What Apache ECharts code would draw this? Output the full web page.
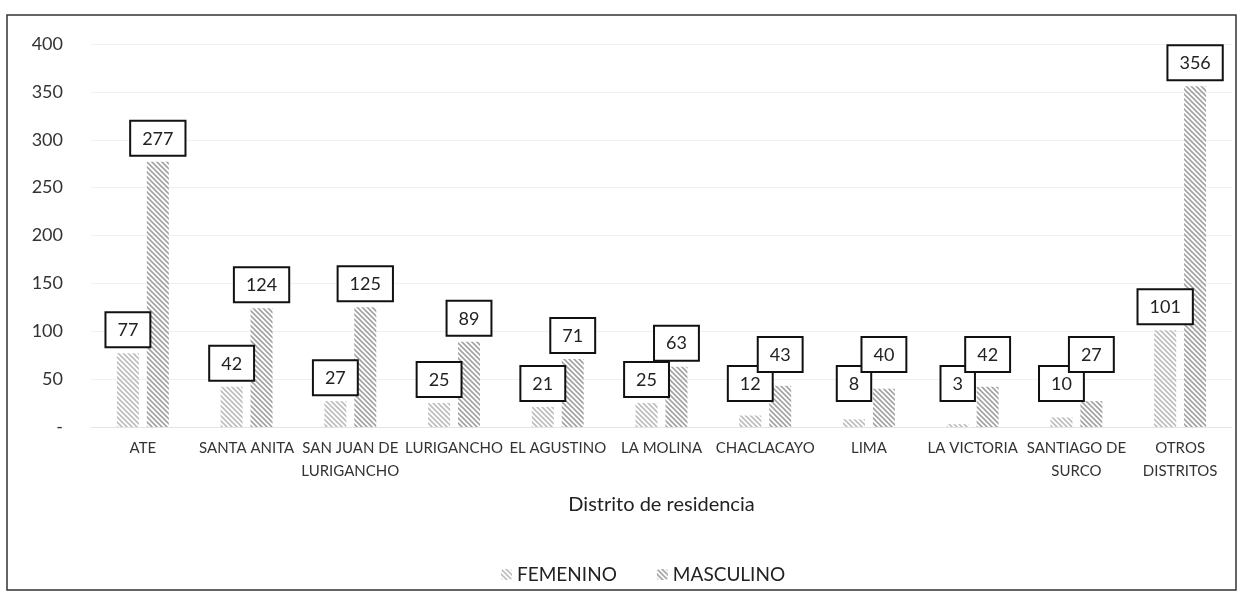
<!DOCTYPE html>
<html>
<head>
    <meta charset="UTF-8">
    <title>Distrito de residencia</title>
    <script src="https://cdn.jsdelivr.net/npm/echarts@6/dist/echarts.min.js"></script>
    <style>
        html, body { margin: 0; padding: 0; background: #fff; }
        #chart { width: 1244px; height: 606px; }
    </style>
</head>
<body>
    <div id="chart"></div>
    <script>
        // datos
        const distritos = ['ATE', 'SANTA ANITA', 'SAN JUAN DE\nLURIGANCHO', 'LURIGANCHO', 'EL AGUSTINO',
            'LA MOLINA', 'CHACLACAYO', 'LIMA', 'LA VICTORIA', 'SANTIAGO DE\nSURCO', 'OTROS\nDISTRITOS'];
        const femenino = [77, 42, 27, 25, 21, 25, 12, 8, 3, 10, 101];
        const masculino = [277, 124, 125, 89, 71, 63, 43, 40, 42, 27, 356];

        // trama diagonal para las barras
        function trama(color) {
            const c = document.createElement('canvas');
            c.width = 5; c.height = 5;
            const ctx = c.getContext('2d');
            ctx.strokeStyle = color;
            ctx.lineWidth = 1.6;
            ctx.beginPath();
            ctx.moveTo(-1, -1); ctx.lineTo(6, 6);
            ctx.moveTo(-1, 4); ctx.lineTo(1, 6);
            ctx.moveTo(4, -1); ctx.lineTo(6, 1);
            ctx.stroke();
            return { image: c, repeat: 'repeat' };
        }

        // en el original las etiquetas de barras bajas se subieron a mano:
        // no bajan de una altura mínima (en px del área de dibujo)
        const base = 427, escala = 383 / 400;
        function conEtiqueta(valores, tope) {
            return valores.map(v => ({
                value: v,
                label: { distance: Math.max(7, base - v * escala - tope) }
            }));
        }

        const etiqueta = {
            show: true,
            position: 'top',
            fontFamily: 'Lato',
            fontSize: 18,
            color: '#222',
            backgroundColor: '#fff',
            borderColor: '#111',
            borderWidth: 2,
            padding: [8, 11, 7, 11]
        };

        const chart = echarts.init(document.getElementById('chart'));
        chart.setOption({
            animation: false,
            textStyle: { fontFamily: 'Lato' },
            grid: { left: 91, right: 12, top: 44, bottom: 179 },
            graphic: [{
                type: 'rect',
                shape: { x: 7, y: 15, width: 1229, height: 575 },
                style: { fill: 'none', stroke: '#333', lineWidth: 1.5 },
                silent: true
            }],
            legend: {
                left: 496,
                top: 560,
                itemWidth: 11,
                itemHeight: 11,
                itemGap: 40,
                textStyle: { fontSize: 19, color: '#222' },
                data: ['FEMENINO', 'MASCULINO']
            },
            xAxis: {
                type: 'category',
                data: distritos,
                name: 'Distrito de residencia',
                nameLocation: 'middle',
                nameGap: 68,
                nameTextStyle: { fontSize: 20, color: '#222' },
                axisTick: { show: false },
                axisLine: { lineStyle: { color: '#e4e4e4' } },
                axisLabel: { interval: 0, margin: 10, fontSize: 15, color: '#333', lineHeight: 23 }
            },
            yAxis: {
                type: 'value',
                min: 0,
                max: 400,
                interval: 50,
                axisLine: { show: false },
                axisTick: { show: false },
                splitLine: { lineStyle: { color: '#f0f0f0' } },
                axisLabel: {
                    margin: 28,
                    fontSize: 18,
                    color: '#333',
                    formatter: v => v === 0 ? '-' : v
                }
            },
            series: [{
                name: 'FEMENINO',
                type: 'bar',
                data: conEtiqueta(femenino, 400),
                barWidth: 22,
                barGap: '36%',
                itemStyle: { color: trama('#bdbdbd') },
                label: etiqueta
            }, {
                name: 'MASCULINO',
                type: 'bar',
                data: conEtiqueta(masculino, 371),
                barWidth: 22,
                itemStyle: { color: trama('#a2a2a2') },
                label: etiqueta
            }]
        });
    </script>
</body>
</html>
